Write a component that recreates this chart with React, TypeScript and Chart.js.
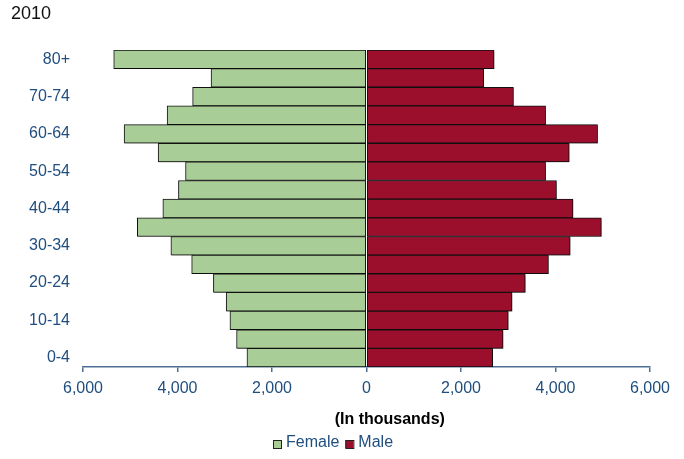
import React, { useEffect, useRef } from "react";
import { Chart, registerables } from "chart.js";

Chart.register(...registerables);

// Age groups, oldest at the top
const ageGroups = [
  "80+", "75-79", "70-74", "65-69", "60-64", "55-59", "50-54", "45-49",
  "40-44", "35-39", "30-34", "25-29", "20-24", "15-19", "10-14", "5-9", "0-4",
];

// Population in thousands, same order as ageGroups
const femaleValues = [
  5350, 3290, 3680, 4220, 5130, 4410, 3830, 3980,
  4310, 4850, 4140, 3700, 3240, 2970, 2890, 2750, 2530,
];
const maleValues = [
  2700, 2480, 3110, 3790, 4890, 4290, 3790, 4020,
  4370, 4970, 4310, 3850, 3360, 3080, 3000, 2890, 2670,
];

const xTicks = [-6000, -4000, -2000, 0, 2000, 4000, 6000];

const chartTitle = "2010";
const axisTitle = "(In thousands)";
const seriesNames = ["Female", "Male"];

const FONT = "'Liberation Sans', Arial, sans-serif";
const BLUE = "#1f4e7f";
const AXIS = "#4d6f93";
const GREEN = "#a8cd96";
const RED = "#9b0f2c";

const textPlugin = {
  id: "pyramidText",
  afterDraw(chart: any) {
    const ctx = chart.ctx;
    const area = chart.chartArea;
    ctx.save();
    // year heading
    ctx.fillStyle = "#111";
    ctx.font = `18px ${FONT}`;
    ctx.textAlign = "left";
    ctx.textBaseline = "middle";
    ctx.fillText(chartTitle, 11, 14);

    // axis caption
    ctx.font = `bold 16px ${FONT}`;
    ctx.textAlign = "center";
    ctx.fillStyle = "#000";
    const cx = area.left + (area.right - area.left) * 0.541;
    ctx.fillText(axisTitle, cx, 420);

    // legend
    const colors = [GREEN, RED];
    ctx.font = `16px ${FONT}`;
    ctx.textAlign = "left";
    let x = 273;
    seriesNames.forEach((name, i) => {
      ctx.fillStyle = colors[i];
      ctx.fillRect(x, 440, 8, 8);
      ctx.strokeStyle = "#222";
      ctx.lineWidth = 1;
      ctx.strokeRect(x + 0.5, 440.5, 8, 8);
      ctx.fillStyle = BLUE;
      ctx.fillText(name, x + 13, 443);
      x += 13 + ctx.measureText(name).width + 6;
    });
    ctx.restore();
  },
};

const shadowPlugin = {
  id: "barShadow",
  beforeDatasetsDraw(chart: any) {
    const ctx = chart.ctx;
    ctx.save();
    ctx.shadowColor = "rgba(0,0,0,0.25)";
    ctx.shadowOffsetX = 1;
    ctx.shadowOffsetY = 1;
    ctx.shadowBlur = 1;
  },
  afterDatasetsDraw(chart: any) {
    chart.ctx.restore();
  },
};

export default function App() {
  const canvasRef = useRef<HTMLCanvasElement | null>(null);

  useEffect(() => {
    const canvas = canvasRef.current;
    if (!canvas) return;
    const chart = new Chart(canvas, {
      type: "bar",
      data: {
        labels: ageGroups,
        datasets: [
          {
            label: seriesNames[0],
            data: femaleValues.map((v) => -v),
            backgroundColor: GREEN,
            borderColor: "#111",
            borderWidth: 1,
            borderSkipped: false,
            barPercentage: 1,
            categoryPercentage: 1,
          },
          {
            label: seriesNames[1],
            data: maleValues,
            backgroundColor: RED,
            borderColor: "#111",
            borderWidth: 1,
            borderSkipped: false,
            barPercentage: 1,
            categoryPercentage: 1,
          },
        ],
      },
      options: {
        indexAxis: "y",
        responsive: false,
        animation: false,
        layout: { padding: { top: 50, right: 34, left: 0, bottom: 0 } },
        plugins: {
          legend: { display: false },
          title: { display: false },
          tooltip: { enabled: false },
        },
        scales: {
          x: {
            type: "linear",
            stacked: true,
            min: xTicks[0],
            max: xTicks[xTicks.length - 1],
            afterBuildTicks: (scale: any) => {
              scale.ticks = xTicks.map((v) => ({ value: v }));
            },
            afterFit: (scale: any) => {
              scale.height = 92;
            },
            grid: {
              drawOnChartArea: false,
              drawTicks: true,
              tickLength: 5,
              color: AXIS,
              lineWidth: 1.5,
            },
            border: { display: true, color: AXIS, width: 1.5 },
            ticks: {
              color: BLUE,
              font: { family: FONT, size: 16 },
              padding: 7,
              maxRotation: 0,
              callback: (v: any) => Math.abs(Number(v)).toLocaleString("en-US"),
            },
          },
          y: {
            type: "category",
            stacked: true,
            afterFit: (scale: any) => {
              scale.width = 83;
            },
            grid: { display: false, drawTicks: false },
            border: { display: false },
            ticks: {
              autoSkip: false,
              color: BLUE,
              font: { family: FONT, size: 16 },
              padding: 13,
              callback: (_v: any, i: number) => (i % 2 === 0 ? ageGroups[i] : ""),
            },
          },
        },
      },
      plugins: [shadowPlugin, textPlugin],
    });
    return () => chart.destroy();
  }, []);

  return (
    <div style={{ position: "absolute", left: 0, top: 0, width: 684, height: 459, background: "#fff" }}>
      <canvas ref={canvasRef} width={684} height={459} style={{ display: "block" }} />
    </div>
  );
}
